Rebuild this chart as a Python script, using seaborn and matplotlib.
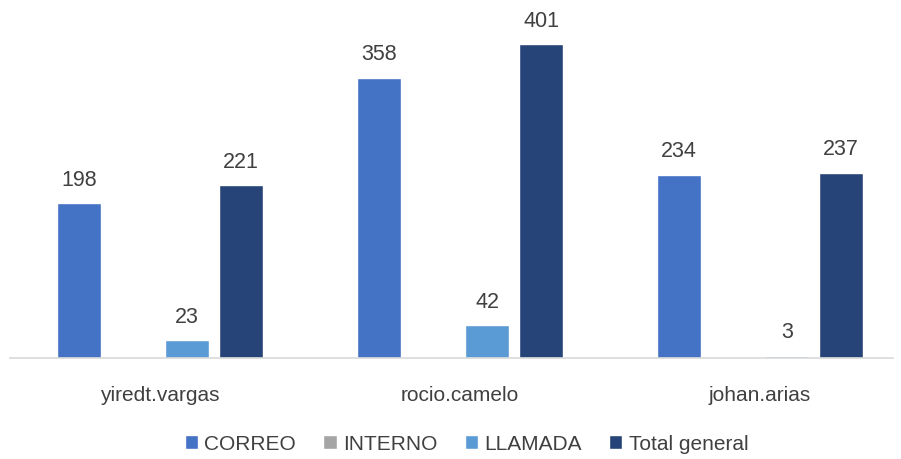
import matplotlib
matplotlib.use("Agg")
import matplotlib.pyplot as plt
import seaborn as sns
import pandas as pd
import numpy as np

categories = ["yiredt.vargas", "rocio.camelo", "johan.arias"]
series = ["CORREO", "INTERNO", "LLAMADA", "Total general"]
correo = [198, 358, 234]
interno = [np.nan, np.nan, np.nan]
llamada = [23, 42, 3]
total = [221, 401, 237]
colors = ["#4472C4", "#A5A5A5", "#5B9BD5", "#264478"]

rows = []
for s, vals in zip(series, [correo, interno, llamada, total]):
    for c, v in zip(categories, vals):
        rows.append({"cat": c, "serie": s, "val": v})
df = pd.DataFrame(rows)

sns.set_theme(style="white")
plt.rcParams['font.family'] = ['Liberation Sans', 'DejaVu Sans']

fig = plt.figure(figsize=(9.01, 4.59), dpi=100)
ax = fig.add_axes([10/901, 101/459, 883/901, 352/459])
sns.barplot(data=df, x="cat", y="val", hue="serie", hue_order=series, order=categories,
            palette=colors, saturation=1, width=0.72, gap=0.2, ax=ax, legend=True,
            errorbar=None)
ax.set_ylim(0, 450)
ax.set_xlim(-0.5, 2.443)
ax.set_xlabel("")
ax.set_ylabel("")
ax.set_yticks([])
for sp in ["top", "left", "right"]:
    ax.spines[sp].set_visible(False)
ax.spines["bottom"].set_color("#D9D9D9")
ax.spines["bottom"].set_linewidth(1.2)
ax.tick_params(axis="x", length=0, labelsize=15, colors="#404040", pad=20)

for cont in ax.containers:
    labels = ["" if np.isnan(v) else f"{int(v)}" for v in cont.datavalues]
    ax.bar_label(cont, labels=labels, padding=9, fontsize=15.5, color="#404040")

ax.legend(loc="center", bbox_to_anchor=(0.517, -0.245), ncol=4, frameon=False,
          fontsize=15, handlelength=0.65, handleheight=0.65, handletextpad=0.3,
          columnspacing=1.3, labelcolor="#404040")
fig.savefig("out.png", dpi=100)
